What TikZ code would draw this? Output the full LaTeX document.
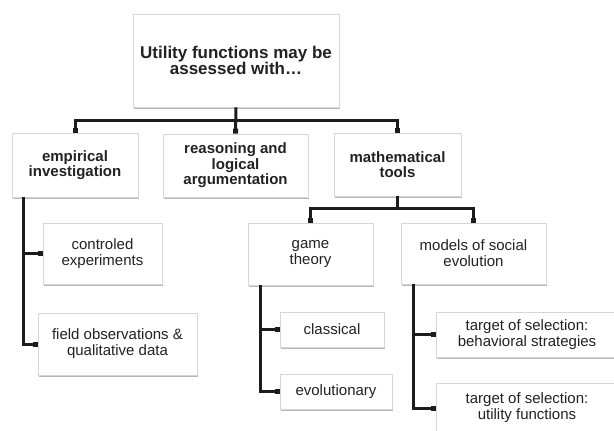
\documentclass[tikz,border=0pt]{standalone}
\usepackage{fontspec}
\setmainfont{Liberation Sans}
\usetikzlibrary{shadows,arrows.meta}
\definecolor{txt}{HTML}{222222}
\definecolor{edge}{HTML}{D6D6D6}
\definecolor{conn}{HTML}{1C1C1C}
\tikzset{
  box/.style={draw=edge, line width=0.9pt, fill=white, rectangle, inner sep=0pt,
    align=center, text=txt,
    drop shadow={shadow xshift=1pt, shadow yshift=-2pt, opacity=0.28, fill=black}},
  rootbox/.style={box, font=\fontsize{17}{16.5}\selectfont\bfseries},
  lvlone/.style={box, font=\fontsize{15}{15.5}\selectfont\bfseries},
  leaf/.style={box, font=\fontsize{15}{16}\selectfont},
  link/.style={draw=conn, line width=3pt, -{Rectangle[length=5pt,width=5pt]}},
  plain/.style={draw=conn, line width=3pt}
}
\begin{document}
\begin{tikzpicture}[x=1pt,y=-1pt]
\useasboundingbox (0,0) rectangle (614,431);
\clip (0,0) rectangle (614,431);
% nodes
\node[rootbox, minimum width=206pt, minimum height=93pt] (root) at (236,60.5) {Utility functions may be\\assessed with\ldots};
\node[lvlone, minimum width=126pt, minimum height=64pt] (emp) at (75,165) {empirical\\investigation};
\node[lvlone, minimum width=145pt, minimum height=63pt] (reas) at (235.5,165.5) {reasoning and\\logical\\argumentation};
\node[lvlone, minimum width=127pt, minimum height=63pt] (math) at (397.5,164.5) {mathematical\\tools};
\node[leaf, minimum width=119pt, minimum height=61pt] (ctrl) at (102.5,253.5) {controled\\experiments};
\node[leaf, minimum width=159pt, minimum height=62pt] (field) at (117.5,344) {field observations \&\\qualitative data};
\node[leaf, minimum width=125pt, minimum height=62pt] (game) at (310.5,254) {game\\theory};
\node[leaf, minimum width=145pt, minimum height=61pt] (models) at (473.5,253.5) {models of social\\evolution};
\node[leaf, minimum width=104pt, minimum height=35pt] (class) at (332,329.5) {classical};
\node[leaf, minimum width=112pt, minimum height=35pt] (evol) at (336,391.5) {evolutionary};
\node[leaf, minimum width=182pt, minimum height=45pt] (behav) at (527,334.5) {target of selection:\\behavioral strategies};
\node[leaf, minimum width=182pt, minimum height=50pt] (util) at (527,408) {target of selection:\\utility functions};
% connectors
\coordinate (b1) at (236,120);
\coordinate (b2) at (397.5,208);
\draw[link] (root.south) -- (reas.north);
\draw[link] (b1) -| (emp.north);
\draw[link] (b1) -| (math.north);
\draw[plain] (math.south) -- (b2);
\draw[link] (b2) -| (game.north);
\draw[link] (b2) -| (models.north);
\coordinate (s1) at ([xshift=12pt]emp.south west);
\draw[link] (s1) |- (field.west);
\draw[link] (s1 |- ctrl.west) -- (ctrl.west);
\coordinate (s2) at ([xshift=13pt]game.south west);
\draw[link] (s2) |- (evol.west);
\draw[link] (s2 |- class.west) -- (class.west);
\coordinate (s3) at ([xshift=13pt]models.south west);
\draw[link] (s3) |- (util.west);
\draw[link] (s3 |- behav.west) -- (behav.west);
\end{tikzpicture}
\end{document}
